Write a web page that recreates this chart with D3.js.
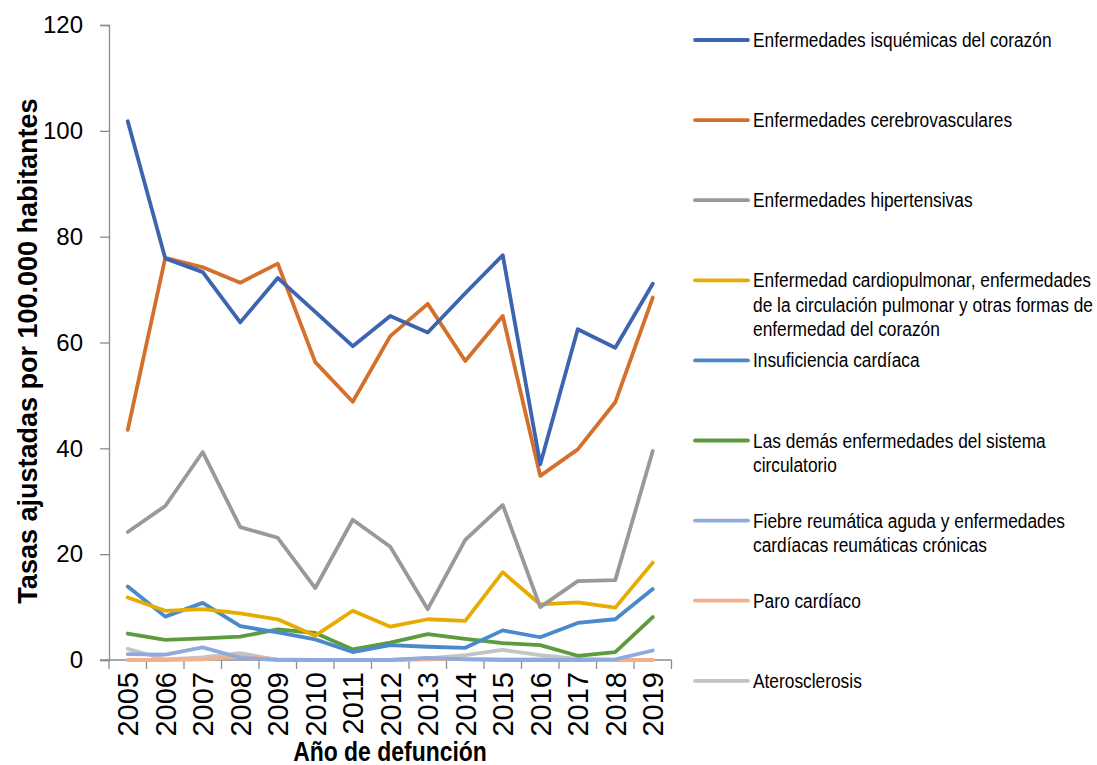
<!DOCTYPE html>
<html>
<head>
<meta charset="utf-8">
<script src="https://cdnjs.cloudflare.com/ajax/libs/d3/7.8.5/d3.min.js"></script>
<style>
  body { margin: 0; background: #fff; }
  svg { display: block; }
  text { font-family: "Liberation Sans", Arial, sans-serif; }
</style>
</head>
<body>
<svg id="chart" width="1097" height="765"></svg>
<script>
// tasas ajustadas por 100.000 habitantes
var years = ["2005","2006","2007","2008","2009","2010","2011","2012","2013","2014","2015","2016","2017","2018","2019"];
var isquemicas      = [101.8, 75.9, 73.3, 63.8, 72.2, 65.8, 59.3, 65.0, 61.9, 69.3, 76.5, 37.0, 62.5, 59.0, 71.1];
var cerebro         = [43.5, 76.0, 74.2, 71.3, 74.9, 56.3, 48.8, 61.2, 67.3, 56.5, 65.0, 34.8, 39.8, 48.7, 68.5];
var hipertensivas   = [24.2, 29.1, 39.3, 25.1, 23.1, 13.6, 26.5, 21.4, 9.6, 22.7, 29.3, 10.0, 14.9, 15.1, 39.5];
var cardiopulmonar  = [11.8, 9.3, 9.6, 8.8, 7.7, 4.6, 9.3, 6.3, 7.7, 7.4, 16.6, 10.5, 10.9, 9.9, 18.4];
var insuficiencia   = [13.9, 8.2, 10.8, 6.4, 5.2, 3.9, 1.5, 2.8, 2.5, 2.3, 5.6, 4.3, 7.0, 7.7, 13.4];
var demas           = [5.0, 3.8, 4.1, 4.4, 5.8, 5.1, 2.0, 3.3, 4.9, 4.0, 3.2, 2.8, 0.8, 1.5, 8.1];
var reumatica       = [1.1, 1.0, 2.4, 0.4, 0, 0, 0, 0, 0.4, 0.1, 0, 0, 0, 0.1, 1.8];
var paro            = [0, 0, 0.1, 0.7, 0.1, 0, 0, 0, 0.1, 0.2, 0.1, 0.1, 0, 0, 0];
var aterosclerosis  = [2.1, 0.1, 0.5, 1.3, 0, 0, 0, 0, 0.3, 0.9, 1.9, 0.9, 0.2, 0, 0];

var yTicks = [0, 20, 40, 60, 80, 100, 120];

var labels = [
  ["Enfermedades isquémicas del corazón"],
  ["Enfermedades cerebrovasculares"],
  ["Enfermedades hipertensivas"],
  ["Enfermedad cardiopulmonar, enfermedades", "de la circulación pulmonar y otras formas de", "enfermedad del corazón"],
  ["Insuficiencia cardíaca"],
  ["Las demás enfermedades del sistema", "circulatorio"],
  ["Fiebre reumática aguda y enfermedades", "cardíacas reumáticas crónicas"],
  ["Paro cardíaco"],
  ["Aterosclerosis"]
];
var colors = ["#3d64b0", "#d4702c", "#999999", "#e6ac00", "#4a8acb", "#5e9b3d", "#8faadc", "#f4b08c", "#c4c4c4"];
var values = [isquemicas, cerebro, hipertensivas, cardiopulmonar, insuficiencia, demas, reumatica, paro, aterosclerosis];

var series = values.map(function(v, i) {
  return { name: labels[i].join(" "), lines: labels[i], color: colors[i], values: v };
});

var svg = d3.select("#chart");

var x = d3.scaleBand().domain(years).range([109, 671.5]);
var y = d3.scaleLinear().domain([0, 120]).range([660, 25]);

// eje y
var yAxis = svg.append("g")
    .attr("transform", "translate(109,0)")
    .call(d3.axisLeft(y).tickValues(yTicks).tickSize(9).tickPadding(17));
yAxis.select(".domain").attr("stroke", "#8c8c8c").attr("stroke-width", 1.3);
yAxis.selectAll(".tick line").attr("stroke", "#8c8c8c").attr("stroke-width", 1.3);
yAxis.selectAll("text")
    .attr("font-family", "Liberation Sans, Arial, sans-serif")
    .attr("font-size", 24)
    .attr("fill", "#000");

// eje x
var xAxis = svg.append("g")
    .attr("transform", "translate(0,660)")
    .call(d3.axisBottom(x).tickSize(0).tickPadding(0));
xAxis.select(".domain").remove();
xAxis.append("line")
    .attr("x1", 100).attr("x2", x.range()[1])
    .attr("stroke", "#8c8c8c").attr("stroke-width", 1.3);
xAxis.selectAll(".bound")
  .data(d3.range(years.length + 1))
  .enter().append("line")
    .attr("x1", function(i) { return x.range()[0] + i * x.step(); })
    .attr("x2", function(i) { return x.range()[0] + i * x.step(); })
    .attr("y1", 0).attr("y2", 9)
    .attr("stroke", "#8c8c8c").attr("stroke-width", 1.3);
xAxis.selectAll(".tick text")
    .attr("font-family", "Liberation Sans, Arial, sans-serif")
    .attr("font-size", 29)
    .attr("fill", "#000")
    .attr("text-anchor", "end")
    .attr("transform", "rotate(-90)")
    .attr("x", -12)
    .attr("y", 0)
    .attr("dy", "0.36em");

// lineas
var line = d3.line()
    .x(function(d, i) { return x(years[i]) + x.bandwidth() / 2; })
    .y(function(d) { return y(d); });

svg.append("g").selectAll("path")
  .data(series.slice().reverse())
  .enter().append("path")
    .attr("d", function(d) { return line(d.values); })
    .attr("fill", "none")
    .attr("stroke", function(d) { return d.color; })
    .attr("stroke-width", 3.8)
    .attr("stroke-linejoin", "round")
    .attr("stroke-linecap", "round");

// titulos
svg.append("text")
    .attr("transform", "translate(37,351) rotate(-90)")
    .attr("text-anchor", "middle")
    .attr("font-size", 27)
    .attr("font-weight", "bold")
    .text("Tasas ajustadas por 100.000 habitantes");

svg.append("text")
    .attr("transform", "translate(390,761) scale(0.85,1)")
    .attr("text-anchor", "middle")
    .attr("font-size", 27)
    .attr("font-weight", "bold")
    .text("Año de defunción");

// leyenda
var legend = svg.append("g").attr("transform", "translate(695,40)");
var item = legend.selectAll(".item")
  .data(series)
  .enter().append("g")
    .attr("class", "item")
    .attr("transform", function(d, i) { return "translate(0," + (i * 80.1) + ")"; });
item.append("line")
    .attr("x1", 0).attr("x2", 53)
    .attr("stroke", function(d) { return d.color; })
    .attr("stroke-width", 3.8)
    .attr("stroke-linecap", "round");
item.append("text")
    .attr("transform", "translate(58,0) scale(0.825,1)")
    .attr("font-size", 21)
    .attr("fill", "#000")
    .selectAll("tspan")
    .data(function(d) { return d.lines; })
    .enter().append("tspan")
      .attr("x", 0)
      .attr("y", function(d, i) { return 7 + i * 24.5; })
      .text(function(d) { return d; });
</script>
</body>
</html>
